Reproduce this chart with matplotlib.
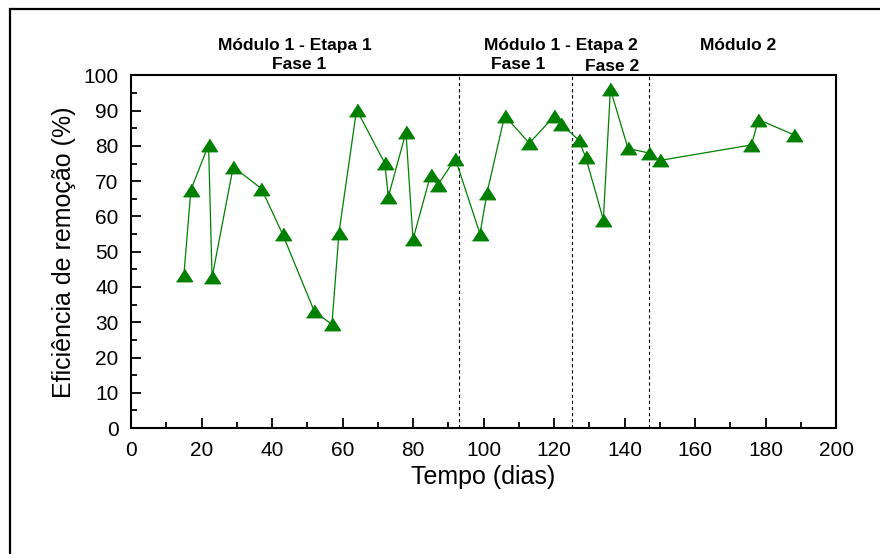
import matplotlib
matplotlib.use("Agg")
import matplotlib.pyplot as plt
from matplotlib.patches import Rectangle
from matplotlib.ticker import MultipleLocator

plt.rcParams['font.family'] = ['Liberation Sans', 'DejaVu Sans']

# Removal efficiency over time
tempo_dias = [15, 17, 22, 23, 29, 37, 43, 52, 57, 59, 64, 72, 73, 78, 80,
              85, 87, 92, 99, 101, 106, 113, 120, 122, 127, 129, 134, 136,
              141, 147, 150, 176, 178, 188]
eficiencia = [43.4, 67.6, 80.3, 42.7, 74.1, 67.9, 55.0, 33.1, 29.4, 55.4,
              90.3, 75.1, 65.6, 83.9, 53.5, 71.8, 68.9, 76.4, 55.1, 66.7,
              88.6, 80.8, 88.4, 86.3, 81.7, 76.8, 59.1, 96.1, 79.3, 78.0,
              75.9, 80.3, 87.5, 83.2]

# Phase boundaries (days)
limites_fase = [93, 125, 147]

# Phase headers: (text, x in days, y in % units above the axes)
cabecalhos = [
    ("Módulo 1 - Etapa 1", 46.5, 108.6),
    ("Fase 1", 47.6, 103.0),
    ("Módulo 1 - Etapa 2", 122.0, 108.6),
    ("Fase 1", 109.8, 103.0),
    ("Fase 2", 136.5, 102.6),
    ("Módulo 2", 172.2, 108.6),
]

fig = plt.figure(figsize=(8.8, 5.54), dpi=100)
ax = fig.add_axes([131 / 880, 1 - 428 / 554, 705 / 880, 352.5 / 554])

# outer frame around the figure
fig.patches.append(Rectangle((10 / 880, -0.1), 1.2, 1 - 9 / 554 + 0.1,
                             transform=fig.transFigure, fill=False,
                             edgecolor='black', linewidth=1.6))

for xb in limites_fase:
    ax.axvline(xb, color='black', linestyle=(0, (3, 2.5)), linewidth=0.8,
               zorder=1)

tri = [(-1, -0.78), (1, -0.78), (0, 0.78)]
ax.plot(tempo_dias, eficiencia, color='#008000', linewidth=0.9,
        marker=tri, markersize=11.5, markerfacecolor='#008000',
        markeredgecolor='#008000', zorder=3)

ax.set_xlim(0, 200)
ax.set_ylim(0, 100)
ax.xaxis.set_major_locator(MultipleLocator(20))
ax.xaxis.set_minor_locator(MultipleLocator(10))
ax.yaxis.set_major_locator(MultipleLocator(10))
ax.yaxis.set_minor_locator(MultipleLocator(5))
ax.tick_params(which='both', direction='in', top=False, right=False,
               width=1.3, labelsize=15, pad=9)
ax.tick_params(which='major', length=7)
ax.tick_params(which='minor', length=4)
for sp in ax.spines.values():
    sp.set_linewidth(1.5)

ax.set_xlabel("Tempo (dias)", fontsize=18, labelpad=4)
ax.set_ylabel("Eficiência de remoção (%)", fontsize=18, labelpad=5)

for txt, xd, yd in cabecalhos:
    ax.text(xd, yd, txt, ha='center', va='center', fontsize=12.5,
            fontweight='bold', clip_on=False)

fig.savefig("out.png", dpi=100)
